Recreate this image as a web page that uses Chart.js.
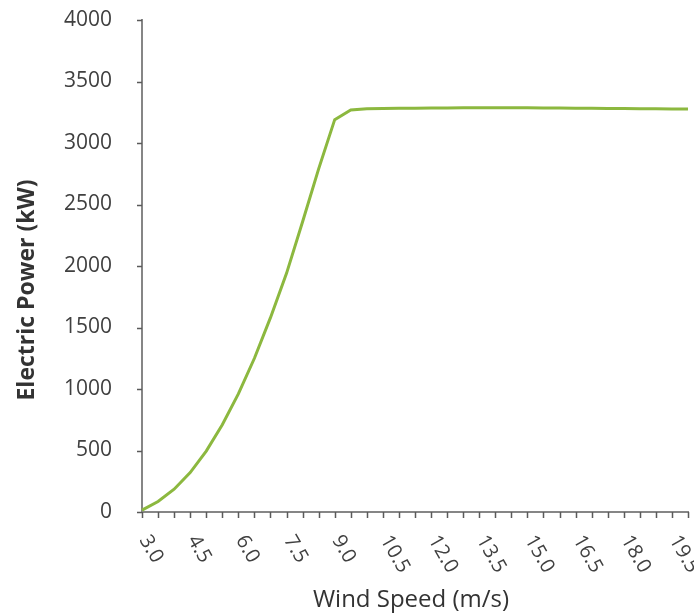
<!DOCTYPE html>
<html><head><meta charset="utf-8">
<script src="https://cdn.jsdelivr.net/npm/chart.js@4"></script>
<style>html,body{margin:0;padding:0;background:#fff;overflow:hidden}</style>
</head><body>
<canvas id="c" width="694" height="613"></canvas>
<script>
const windSpeeds = ['3.0','3.5','4.0','4.5','5.0','5.5','6.0','6.5','7.0','7.5','8.0','8.5','9.0','9.5','10.0','10.5','11.0','11.5','12.0','12.5','13.0','13.5','14.0','14.5','15.0','15.5','16.0','16.5','17.0','17.5','18.0','18.5','19.0','19.5','20.0'];
const powerKW = [15,85,185,320,495,710,960,1250,1580,1940,2360,2790,3190,3268,3278,3280,3282,3283,3284,3285,3286,3287,3287,3286,3286,3285,3284,3283,3282,3281,3280,3279,3278,3277,3276];
const yMin = 0, yMax = 4000, yStep = 500;
const xLabelEvery = 3;
const xTitle = 'Wind Speed (m/s)';
const yTitle = 'Electric Power (kW)';

const FONT = '"Open Sans", "DejaVu Sans", sans-serif';
const AXIS = '#868686';
const TICK = '#5a5a5a';

const textPlugin = {
  id: 'customText',
  afterDraw(chart) {
    const ctx = chart.ctx, xs = chart.scales.x, ys = chart.scales.y, area = chart.chartArea;
    ctx.save();
    // tick marks
    ctx.strokeStyle = TICK;
    ctx.lineWidth = 1.5;
    ctx.beginPath();
    windSpeeds.forEach((lab, i) => {
      const x = Math.round(xs.getPixelForValue(i)) + 0.5;
      ctx.moveTo(x, area.bottom);
      ctx.lineTo(x, area.bottom + 6);
    });
    ys.ticks.forEach(t => {
      const y = Math.round(ys.getPixelForValue(t.value)) + 0.5;
      ctx.moveTo(area.left - 5, y);
      ctx.lineTo(area.left, y);
    });
    ctx.stroke();
    // x tick labels
    ctx.font = '20px ' + FONT;
    ctx.fillStyle = '#404040';
    ctx.textAlign = 'left';
    ctx.textBaseline = 'middle';
    windSpeeds.forEach((lab, i) => {
      if (i % xLabelEvery) return;
      const x = xs.getPixelForValue(i);
      ctx.save();
      ctx.translate(x + 2, area.bottom + 25);
      ctx.rotate(Math.PI / 3);
      ctx.fillText(lab, 0, 0);
      ctx.restore();
    });
    // titles
    ctx.fillStyle = '#333333';
    ctx.font = '24px ' + FONT;
    ctx.textAlign = 'center';
    ctx.textBaseline = 'alphabetic';
    ctx.fillText(xTitle, (area.left + area.right) / 2 - 4, 607);
    ctx.save();
    ctx.translate(27, 290);
    ctx.rotate(-Math.PI / 2);
    ctx.font = 'bold 23px ' + FONT;
    ctx.textBaseline = 'middle';
    ctx.fillText(yTitle, 0, 0);
    ctx.restore();
    ctx.restore();
  }
};

new Chart(document.getElementById('c'), {
  type: 'line',
  data: {
    labels: windSpeeds,
    datasets: [{
      data: powerKW,
      borderColor: '#8cb83f',
      borderWidth: 3,
      pointRadius: 0,
      tension: 0,
      fill: false
    }]
  },
  options: {
    responsive: false,
    animation: false,
    layout: { padding: { left: 0, right: 6, top: 20, bottom: 95 } },
    plugins: { legend: { display: false }, tooltip: { enabled: false } },
    scales: {
      x: {
        type: 'category',
        offset: false,
        ticks: { display: true, autoSkip: false, callback: () => '', font: { size: 1 } },
        grid: { display: false },
        border: { display: true, color: AXIS, width: 2 },
        afterFit: s => { s.height = 6; s.paddingLeft = 0; s.paddingRight = 0; }
      },
      y: {
        min: yMin, max: yMax,
        ticks: { stepSize: yStep, font: { family: FONT, size: 21 }, color: '#404040', padding: 22, callback: v => String(v) },
        grid: { display: false },
        border: { display: true, color: AXIS, width: 2 },
        afterFit: s => { s.width = 142; s.paddingTop = 0; s.paddingBottom = 0; }
      }
    }
  },
  plugins: [textPlugin]
});
</script>
</body></html>
